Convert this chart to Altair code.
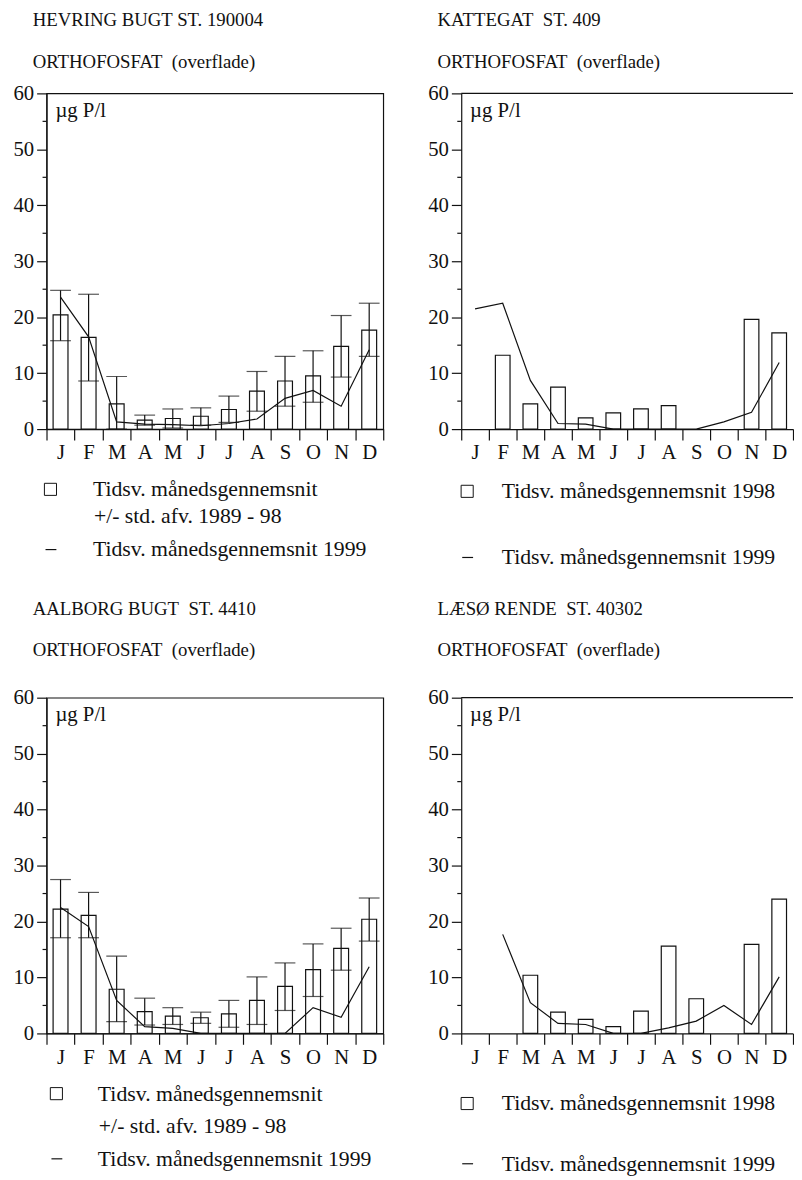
import json
import altair as alt
import pandas as pd

MONTH_LABELS = ["J", "F", "M", "A", "M", "J", "J", "A", "S", "O", "N", "D"]
MONTH_NUM = list(range(1, 13))
Y_TICKS = [0, 10, 20, 30, 40, 50, 60]
Y_MINOR = [5, 15, 25, 35, 45, 55]

# HEVRING BUGT ST. 190004
hev_mean = [20.4, 16.4, 4.5, 1.6, 1.9, 2.3, 3.5, 6.8, 8.6, 9.5, 14.8, 17.7]
hev_lo = [15.8, 8.6, 0.0, 0.7, 0.2, 0.7, 1.2, 3.2, 4.1, 4.8, 9.3, 13.0]
hev_hi = [24.8, 24.1, 9.4, 2.5, 3.6, 3.8, 5.9, 10.3, 13.0, 14.0, 20.3, 22.5]
hev_1999 = [23.6, 16.5, 1.3, 0.9, 0.8, 0.6, 1.0, 1.8, 5.5, 6.9, 4.1, 14.2]

# KATTEGAT ST. 409
kat_1998 = [None, 13.2, 4.5, 7.5, 2.0, 2.9, 3.6, 4.2, None, None, 19.6, 17.2]
kat_1999 = [21.5, 22.5, 8.7, 1.0, 0.9, 0.0, 0.0, 0.0, 0.0, 1.3, 3.0, 11.9]

# AALBORG BUGT ST. 4410
aal_mean = [22.2, 21.1, 7.9, 3.9, 3.1, 2.8, 3.5, 5.9, 8.4, 11.4, 15.2, 20.4]
aal_lo = [17.1, 17.1, 2.1, 1.5, 1.6, 1.8, 1.1, 1.6, 4.1, 6.6, 11.3, 16.5]
aal_hi = [27.5, 25.2, 13.8, 6.3, 4.6, 3.8, 5.9, 10.1, 12.6, 16.0, 18.8, 24.2]
aal_1999 = [22.5, 19.1, 5.9, 1.2, 0.9, 0.0, 0.0, 0.0, 0.0, 4.6, 2.9, 11.9]

# LÆSØ RENDE ST. 40302
lae_1998 = [None, None, 10.4, 3.8, 2.5, 1.2, 4.0, 15.6, 6.2, None, 15.9, 24.0]
lae_1999 = [None, 17.7, 5.5, 1.8, 1.6, 0.0, 0.0, 1.0, 2.2, 5.0, 1.6, 10.1]

TITLES = [
    ["HEVRING BUGT ST. 190004", "ORTHOFOSFAT\u00a0 (overflade)"],
    ["KATTEGAT\u00a0 ST. 409", "ORTHOFOSFAT\u00a0 (overflade)"],
    ["AALBORG BUGT\u00a0 ST. 4410", "ORTHOFOSFAT\u00a0 (overflade)"],
    ["LÆSØ RENDE\u00a0 ST. 40302", "ORTHOFOSFAT\u00a0 (overflade)"],
]
UNIT = "µg P/l"
LEG_MEAN = ["Tidsv. månedsgennemsnit", "+/- std. afv. 1989 - 98"]
LEG_1998 = "Tidsv. månedsgennemsnit 1998"
LEG_1999 = "Tidsv. månedsgennemsnit 1999"

FONT = "Liberation Serif"
INK = "#111111"
H = 340


def text_layer(t, x, y, size):
    return alt.Chart(pd.DataFrame({"t": [t]})).mark_text(
        align="left", baseline="middle", fontSize=size, font=FONT, color=INK
    ).encode(text="t:N", x=alt.value(x), y=alt.value(y))


def panel(title, title_pos, bars, line, lo=None, hi=None, legend=None, width=341, right=False):
    d = {"m": MONTH_NUM, "bar": bars, "line": line}
    if lo is not None:
        d["lo"] = lo
        d["hi"] = hi
    df = pd.DataFrame(d)
    label_expr = json.dumps(MONTH_LABELS) + "[datum.value - 1]"
    x = alt.X(
        "m:O",
        scale=alt.Scale(paddingInner=0, paddingOuter=0),
        axis=alt.Axis(title=None, labelExpr=label_expr, labelAngle=0,
                      tickBand="extent", tickSize=11, labelPadding=2,
                      labelFontSize=21),
    )
    yscale = alt.Scale(domain=[0, 60], nice=False, zero=True)
    yaxis = alt.Axis(title=None, values=Y_TICKS, tickSize=10, labelPadding=3,
                     grid=False, labelFontSize=21)

    def Y(f):
        return alt.Y(f, scale=yscale, axis=yaxis)

    base = alt.Chart(df)
    layers = [
        base.mark_bar(fill="white", stroke=INK, strokeWidth=1.2,
                      width=alt.RelativeBandSize(0.53)).encode(x=x, y=Y("bar:Q")),
    ]
    if lo is not None:
        layers += [
            base.mark_rule(color=INK, strokeWidth=1.2).encode(x=x, y=Y("lo:Q"), y2="hi:Q"),
            base.mark_tick(color=INK, size=21, thickness=1.2).encode(x=x, y=Y("lo:Q")),
            base.mark_tick(color=INK, size=21, thickness=1.2).encode(x=x, y=Y("hi:Q")),
        ]
    layers.append(
        base.mark_line(color=INK, strokeWidth=1.2).encode(x=x, y=Y("line:Q"))
    )
    # minor y ticks
    layers.append(
        alt.Chart(pd.DataFrame({"v": Y_MINOR})).mark_rule(color=INK, strokeWidth=1.2)
        .encode(y=Y("v:Q"), x=alt.value(-4), x2=alt.value(0))
    )
    # unit label
    layers.append(text_layer(UNIT, 9, 18, 21))
    # title (two lines)
    tx0, ty1, ty2 = title_pos
    layers.append(text_layer(title[0], tx0, ty1, 19))
    layers.append(text_layer(title[1], tx0, ty2, 19))
    if right:
        layers.append(
            alt.Chart(pd.DataFrame({"k": [0]})).mark_rule(color=INK, strokeWidth=1.2)
            .encode(x=alt.value(0), x2=alt.value(width), y=alt.value(0))
        )
    # legend
    sq_x, sq_y, tx, lines_y, dash_y = legend
    texts = LEG_MEAN if lo is not None else [LEG_1998]
    layers.append(
        alt.Chart(pd.DataFrame({"k": [0]})).mark_point(
            shape="square", filled=False, size=150, color=INK, strokeWidth=1, opacity=1)
        .encode(x=alt.value(sq_x), y=alt.value(sq_y))
    )
    for t, ty in zip(texts, lines_y):
        layers.append(text_layer(t, tx + (1 if t.startswith("+") else 0), ty, 22))
    layers.append(
        alt.Chart(pd.DataFrame({"k": [0]})).mark_rule(color=INK, strokeWidth=1.2)
        .encode(x=alt.value(sq_x - 5), x2=alt.value(sq_x + 6), y=alt.value(dash_y))
    )
    layers.append(text_layer(LEG_1999, tx, dash_y, 22))
    ch = alt.layer(*layers).properties(width=width, height=H)
    if right:
        ch = ch.properties(view=alt.ViewBackground(strokeWidth=0))
    return ch


p1 = panel(TITLES[0], (-14, -74, -32), hev_mean, hev_1999, hev_lo, hev_hi,
           legend=(4, 401, 47, [401, 428], 462))
p2 = panel(TITLES[1], (-24, -74, -32), kat_1998, kat_1999,
           legend=(6, 403, 41, [403], 470), width=336, right=True)
p3 = panel(TITLES[2], (-14, -90, -48), aal_mean, aal_1999, aal_lo, aal_hi,
           legend=(10, 401, 52, [401, 434], 467))
p4 = panel(TITLES[3], (-24, -90, -48), lae_1998, lae_1999,
           legend=(6, 411, 41, [411], 472), width=336, right=True)

top = alt.hconcat(p1, p2, spacing=43)
bottom = alt.hconcat(p3, p4, spacing=43)
chart = alt.vconcat(top, bottom, spacing=31).properties(
    padding={"left": 4, "top": -5, "right": 0, "bottom": 0}
).configure_view(stroke=INK, strokeWidth=1.2).configure_axis(
    domainColor=INK, domainWidth=1.2, tickColor=INK, tickWidth=1.2,
    labelColor=INK, labelFont=FONT, grid=False,
).configure_text(font=FONT)

chart.save("out.html", embed_options={"renderer": "svg", "actions": False})
